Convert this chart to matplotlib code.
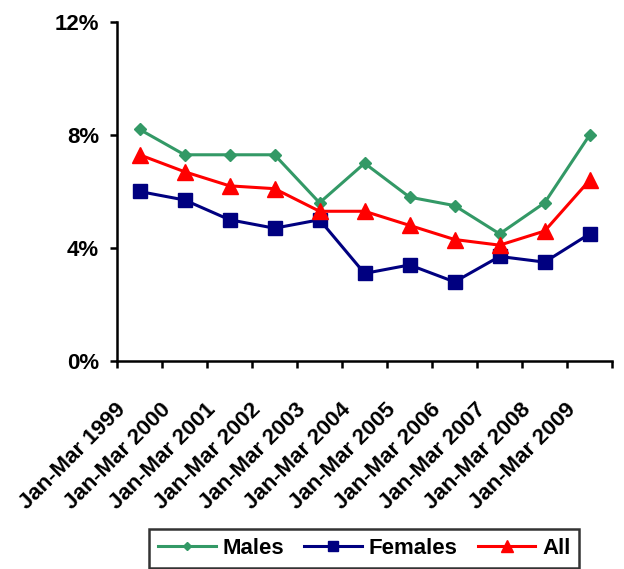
import numpy as np
import matplotlib.pyplot as plt
import matplotlib.transforms as mtransforms
from matplotlib.ticker import FuncFormatter

# quarters shown on the x axis
periods = ['Jan-Mar 1999', 'Jan-Mar 2000', 'Jan-Mar 2001', 'Jan-Mar 2002',
           'Jan-Mar 2003', 'Jan-Mar 2004', 'Jan-Mar 2005', 'Jan-Mar 2006',
           'Jan-Mar 2007', 'Jan-Mar 2008', 'Jan-Mar 2009']
males = [8.2, 7.3, 7.3, 7.3, 5.6, 7.0, 5.8, 5.5, 4.5, 5.6, 8.0]
females = [6.0, 5.7, 5.0, 4.7, 5.0, 3.1, 3.4, 2.8, 3.7, 3.5, 4.5]
all_people = [7.3, 6.7, 6.2, 6.1, 5.3, 5.3, 4.8, 4.3, 4.1, 4.6, 6.4]
yticks = [0, 4, 8, 12]

plt.rcParams['font.family'] = ['Liberation Sans', 'DejaVu Sans']
plt.rcParams['font.weight'] = 'bold'

fig = plt.figure(figsize=(6.24, 5.69), dpi=100)
ax = fig.add_axes([0.1875, 0.3656, 0.7935, 0.5957])

x = np.arange(len(periods))
ax.plot(x, males, color='#339966', lw=2.2, marker='D', ms=6, label='Males')
ax.plot(x, females, color='#000080', lw=2.2, marker='s', ms=10, label='Females')
ax.plot(x, all_people, color='#FF0000', lw=2.2, marker='^', ms=11.5, label='All')

ax.set_xlim(-0.5, len(periods) - 0.5)
ax.set_ylim(0, 12)
ax.set_yticks(yticks)
ax.yaxis.set_major_formatter(FuncFormatter(lambda v, p: '%d%%' % v))

ax.set_xticks(x)
ax.set_xticklabels(periods, rotation=45, ha='right', va='center',
                   rotation_mode='anchor')
ax.set_xticks(np.arange(-0.5, len(periods)), minor=True)
ax.tick_params(axis='x', which='major', length=0, pad=0, labelsize=16)
ax.tick_params(axis='x', which='minor', length=5, width=1.8, direction='out')
ax.tick_params(axis='y', length=5, width=1.8, labelsize=16, pad=8)

# shift the slanted labels down-left, like the original
shift = mtransforms.ScaledTranslation(-0.17, -0.46, fig.dpi_scale_trans)
for lab in ax.get_xticklabels():
    lab.set_transform(lab.get_transform() + shift)

for s in ['top', 'right']:
    ax.spines[s].set_visible(False)
for s in ['left', 'bottom']:
    ax.spines[s].set_linewidth(1.8)

leg = fig.legend(loc='upper center', bbox_to_anchor=(0.584, 0.0703), ncol=3,
                 fontsize=16, frameon=True, fancybox=False, handlelength=2.6,
                 borderpad=0.4, columnspacing=0.9, handletextpad=0.3,
                 borderaxespad=0, markerscale=0.75)
leg.get_frame().set_edgecolor('black')
leg.get_frame().set_linewidth(1.8)

fig.savefig('out.png', dpi=100)
